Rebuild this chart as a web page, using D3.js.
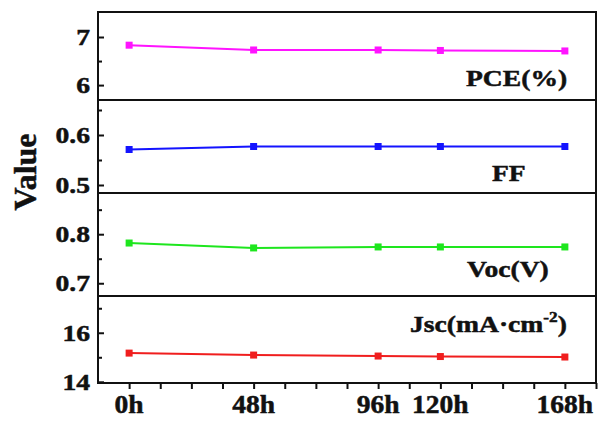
<!DOCTYPE html>
<html>
<head>
<meta charset="utf-8">
<script src="https://cdn.jsdelivr.net/npm/d3@7"></script>
<style>
  body { margin: 0; background: #fff; }
  text { font-family: "Liberation Serif", "Times New Roman", serif; font-weight: bold; fill: #111; stroke: #111; stroke-width: 0.5; }
</style>
</head>
<body>
<svg id="chart" width="600" height="421"></svg>
<script>
// data
const hours = [0, 48, 96, 120, 168];
const hourLabels = ["0h", "48h", "96h", "120h", "168h"];
const pce = [6.83, 6.73, 6.73, 6.72, 6.71];
const ff  = [0.571, 0.577, 0.577, 0.577, 0.577];
const voc = [0.782, 0.772, 0.774, 0.774, 0.774];
const jsc = [15.17, 15.09, 15.05, 15.03, 15.01];

const panelNames  = ["PCE(%)", "FF", "Voc(V)", "Jsc(mA·cm-2)"];
const panelColors = ["#ff14ff", "#1414ff", "#1ee61e", "#f01e1e"];
const majorTicks  = [[6, 7], [0.5, 0.6], [0.7, 0.8], [14, 16]];
const minorTicks  = [[6.5], [0.55, 0.65], [0.75, 0.85], [15, 17]];
const domains     = [[5.69, 7.52], [0.484, 0.67], [0.674, 0.884], [13.95, 17.5]];
const tickFormats = [d3.format("d"), d3.format(".1f"), d3.format(".1f"), d3.format("d")];

const svg = d3.select("#chart");
const left = 98, right = 596;
// panel boundaries (pixels), top to bottom
const bounds = [12, 100, 193, 296, 383];
const stretch = 1.15; // the source text is a bit wide

const x = d3.scaleLinear().domain([-12, 180]).range([left, right]);

const panels = [pce, ff, voc, jsc].map((vals, i) => ({
  name: panelNames[i],
  color: panelColors[i],
  values: vals,
  y: d3.scaleLinear().domain(domains[i]).range([bounds[i + 1], bounds[i]]),
  major: majorTicks[i],
  minor: minorTicks[i],
  fmt: tickFormats[i]
}));

// label placement (start x, baseline y)
const labelPos = [[466, 86], [492, 181], [467, 277], [410, 332]];

panels.forEach((p, i) => {
  const g = svg.append("g");

  // y axis ticks inward, major + minor
  const yMaj = d3.axisRight(p.y).tickValues(p.major).tickSize(6).tickFormat("");
  const yMin = d3.axisRight(p.y).tickValues(p.minor).tickSize(4).tickFormat("");
  [yMaj, yMin].forEach(ax => {
    const a = g.append("g").attr("transform", `translate(${left},0)`).call(ax);
    a.select(".domain").remove();
    a.selectAll("line").attr("stroke", "#111").attr("stroke-width", 2);
  });

  g.selectAll("text.ytick")
    .data(p.major)
    .join("text")
    .attr("class", "ytick")
    .attr("transform", d => `translate(${left - 8},${p.y(d) + 8}) scale(${stretch},1)`)
    .attr("text-anchor", "end")
    .attr("font-size", 24)
    .text(p.fmt);

  const line = d3.line()
    .x((d, j) => x(hours[j]))
    .y(d => p.y(d));

  g.append("path")
    .datum(p.values)
    .attr("d", line)
    .attr("fill", "none")
    .attr("stroke", p.color)
    .attr("stroke-width", 2);

  g.selectAll("rect.pt")
    .data(p.values)
    .join("rect")
    .attr("class", "pt")
    .attr("x", (d, j) => x(hours[j]) - 3.5)
    .attr("y", d => p.y(d) - 3.5)
    .attr("width", 7)
    .attr("height", 7)
    .attr("fill", p.color);

  const lbl = g.append("text")
    .attr("transform", `translate(${labelPos[i][0]},${labelPos[i][1]}) scale(${stretch},1)`)
    .attr("font-size", 24);
  if (p.name.includes("cm-2")) {
    lbl.append("tspan").text("Jsc(mA·cm");
    lbl.append("tspan").attr("font-size", 15).attr("dy", -10).text("-2");
    lbl.append("tspan").attr("dy", 10).text(")");
  } else {
    lbl.text(p.name);
  }
});

// frame and panel dividers
svg.append("rect")
  .attr("x", left).attr("y", bounds[0])
  .attr("width", right - left).attr("height", bounds[4] - bounds[0])
  .attr("fill", "none").attr("stroke", "#111").attr("stroke-width", 2);

svg.selectAll("line.div")
  .data(bounds.slice(1, 4))
  .join("line")
  .attr("class", "div")
  .attr("x1", left).attr("x2", right)
  .attr("y1", d => d).attr("y2", d => d)
  .attr("stroke", "#111").attr("stroke-width", 2);

// bottom axis: ticks every 12h, labels at sample times
const xAx = svg.append("g")
  .attr("transform", `translate(0,${bounds[4]})`)
  .call(d3.axisBottom(x).tickValues(d3.range(0, 181, 12)).tickSize(6).tickFormat(""));
xAx.select(".domain").remove();
xAx.selectAll("line").attr("stroke", "#111").attr("stroke-width", 2);

svg.selectAll("text.xtick")
  .data(hours)
  .join("text")
  .attr("class", "xtick")
  .attr("transform", d => `translate(${x(d)},413) scale(1.1,1)`)
  .attr("text-anchor", "middle")
  .attr("font-size", 25)
  .text((d, i) => hourLabels[i]);

svg.append("text")
  .attr("transform", "translate(36,172) rotate(-90)")
  .attr("text-anchor", "middle")
  .attr("font-size", 32)
  .text("Value");
</script>
</body>
</html>
